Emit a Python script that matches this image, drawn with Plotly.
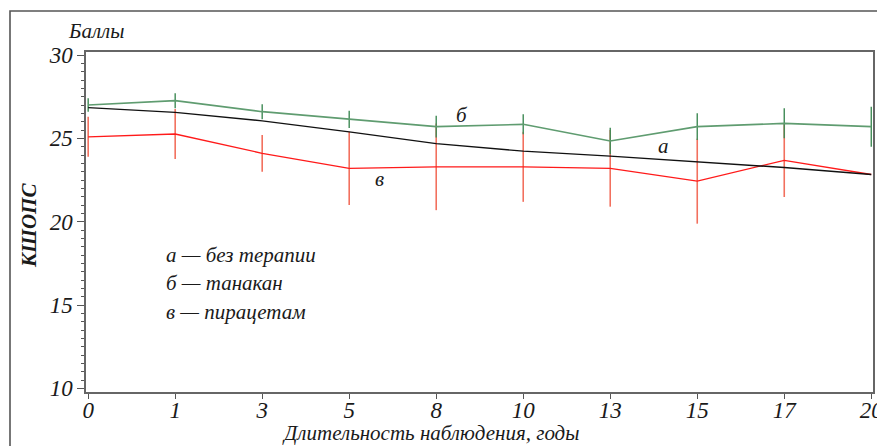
import plotly.graph_objects as go

years = ["0", "1", "3", "5", "8", "10", "13", "15", "17", "20"]

a_no_therapy = [26.84, 26.56, 26.05, 25.39, 24.68, 24.23, 23.93, 23.59, 23.25, 22.83]

b_tanakan = [27.0, 27.26, 26.6, 26.14, 25.70, 25.84, 24.84, 25.70, 25.90, 25.70]
b_err = [0.4, 0.45, 0.45, 0.52, 0.65, 0.6, 0.8, 0.8, 0.9, 1.2]

v_piracetam = [25.09, 25.26, 24.10, 23.20, 23.29, 23.29, 23.20, 22.43, 23.68, 22.83]
v_err = [1.2, 1.5, 1.1, 2.2, 2.6, 2.1, 2.3, 2.55, 2.2, 0.0]

y_ticks = [10, 15, 20, 25, 30]

FONT = "Liberation Serif"
TXT = "#1a1a1a"

# page body margin shifts the figure by 8px; positions below are screen pixels
OFF = 8
W, H = 885, 446
L, R, T, B = 86 - OFF, 873 - OFF, 52 - OFF, 392 - OFF


def px(xp):
    return (xp - OFF - L) / (R - L)


def py(yp):
    return (B - (yp - OFF)) / (B - T)


fig = go.Figure()

fig.add_trace(go.Scatter(
    x=years, y=v_piracetam, mode="lines", cliponaxis=False,
    line=dict(color="#ff1a1a", width=1.3),
    error_y=dict(type="data", array=v_err, visible=True, width=0,
                 color="#f2705e", thickness=1.6),
    showlegend=False,
))
fig.add_trace(go.Scatter(
    x=years, y=b_tanakan, mode="lines", cliponaxis=False,
    line=dict(color="#5f9c70", width=1.6),
    error_y=dict(type="data", array=b_err, visible=True, width=0,
                 color="#3f8a55", thickness=1.4),
    showlegend=False,
))
fig.add_trace(go.Scatter(
    x=years, y=a_no_therapy, mode="lines", cliponaxis=False,
    line=dict(color="#111111", width=1.4),
    showlegend=False,
))

# curve labels
lab_font = dict(family=FONT, size=21, style="italic", color=TXT)
fig.add_annotation(x=4.3, y=26.4, text="б", showarrow=False, font=lab_font)
fig.add_annotation(x=6.61, y=24.55, text="а", showarrow=False, font=lab_font)
fig.add_annotation(x=3.35, y=22.55, text="в", showarrow=False, font=lab_font)

legend_lines = ["а — без терапии", "б — танакан", "в — пирацетам"]
for i, t in enumerate(legend_lines):
    fig.add_annotation(xref="paper", yref="paper",
                       x=px(164), y=py(255 + 28.3 * i),
                       xanchor="left", yanchor="middle", text=t, showarrow=False,
                       font=dict(family=FONT, size=21, style="italic", color=TXT))

# Баллы label
fig.add_annotation(xref="paper", yref="paper", x=px(66), y=py(31),
                   xanchor="left", yanchor="middle", text="Баллы", showarrow=False,
                   font=dict(family=FONT, size=21, style="italic", color=TXT))

# axis titles
fig.add_annotation(xref="paper", yref="paper", x=px(430), y=py(433),
                   xanchor="center", yanchor="middle",
                   text="Длительность наблюдения, годы", showarrow=False,
                   font=dict(family=FONT, size=21, style="italic", color=TXT))
fig.add_annotation(xref="paper", yref="paper", x=px(29), y=py(226),
                   xanchor="center", yanchor="middle", textangle=-90,
                   text="КШОПС", showarrow=False,
                   font=dict(family=FONT, size=21, style="italic", weight="bold", color=TXT))

# outer frame
fig.add_shape(type="rect", xref="paper", yref="paper",
              x0=px(10), x1=px(910), y0=py(480), y1=py(11),
              line=dict(color="#555555", width=1.6), layer="below")

fig.update_layout(
    width=W, height=H,
    margin=dict(l=L, r=W - R, t=T, b=H - B, autoexpand=False),
    paper_bgcolor="white", plot_bgcolor="white",
    font=dict(family=FONT, color=TXT),
    xaxis=dict(
        type="category", range=[-0.025, 9.02], automargin=False,
        showgrid=False, zeroline=False,
        showline=True, linecolor="#666", linewidth=1.5, mirror=True,
        ticks="outside", ticklen=5, tickcolor="#555",
        ticklabelstandoff=-8,
        tickfont=dict(family=FONT, size=23, style="italic", color=TXT),
    ),
    yaxis=dict(
        range=[9.78, 30.18], automargin=False,
        tickvals=y_ticks,
        showgrid=False, zeroline=False,
        showline=True, linecolor="#666", linewidth=1.5, mirror=True,
        ticks="outside", ticklen=7, tickcolor="#555",
        minor=dict(dtick=0.5, ticks="outside", ticklen=3, tickcolor="#555", showgrid=False),
        tickfont=dict(family=FONT, size=23, style="italic", color=TXT),
    ),
)

fig.write_html("out.html")
